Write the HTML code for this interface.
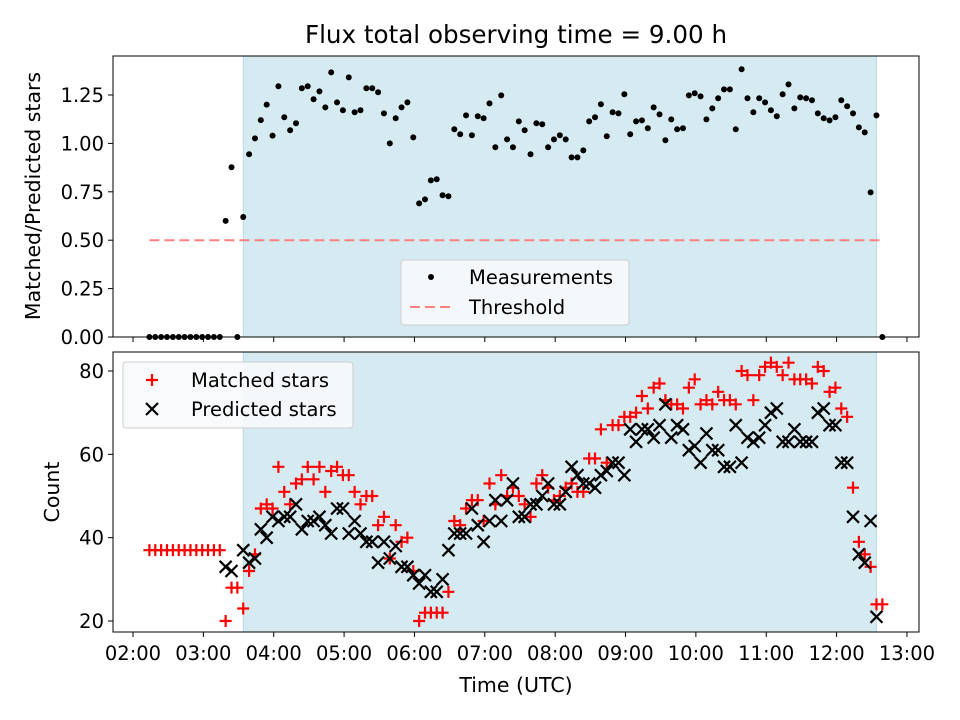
<!DOCTYPE html>
<html><head><meta charset="utf-8"><style>
html,body{margin:0;padding:0;background:#fff}
svg{display:block;font-family:"DejaVu Sans","Liberation Sans",sans-serif}
</style></head><body>
<svg id="fig" width="960" height="720" viewBox="0 0 960 720">
<text x="516" y="43" font-size="24.6" text-anchor="middle">Flux total observing time = 9.00 h</text>
<g id="topPanel"></g>
<g id="botPanel"></g>
<text x="516" y="692" font-size="20.5" text-anchor="middle">Time (UTC)</text>
<text transform="translate(40,196) rotate(-90)" font-size="20.5" text-anchor="middle">Matched/Predicted stars</text>
<text transform="translate(59,492) rotate(-90)" font-size="20.5" text-anchor="middle">Count</text>
</svg>
<script>
const startMin = 134, stepMin = 5;
const ratio = [0,0,0,0,0,0,0,0,0,0,0,0,0,
0.60,0.877,0,0.62,0.944,1.026,1.12,1.20,1.04,1.295,1.135,1.068,1.104,1.285,1.295,1.228,1.269,1.186,1.367,1.212,1.171,1.341,1.161,1.171,1.285,1.285,1.264,1.155,1.0,1.13,
1.186,1.212,1.031,0.69,0.711,0.809,0.815,0.732,0.727,1.073,1.047,1.145,1.042,1.14,1.13,1.207,0.98,1.248,1.021,0.98,1.114,1.068,0.944,1.104,1.099,0.98,1.021,1.042,1.021,0.928,0.928,0.964,1.114,1.135,1.202,1.037,1.161,1.155,1.254,1.047,1.114,1.119,1.078,
1.186,1.15,1.016,1.124,1.073,1.078,1.248,1.259,1.243,1.124,1.181,1.233,1.279,1.279,1.073,1.383,1.233,1.161,1.233,1.212,1.171,1.14,1.254,1.305,1.181,1.238,1.233,1.223,1.155,1.13,1.119,1.135,1.223,1.192,1.155,1.083,1.057,0.747,1.145,0];
const matched = [37,37,37,37,37,37,37,37,37,37,37,37,37,
20,28,28,23,32,36,47,48,47,57,51,48,53,54,57,54,57,51,56,
57,55,55,51,48,50,50,43,45,35,43,
39,40,32,20,22,22,22,22,27,44,43,47,49,49,44,53,48,55,50,52,50,
48,45,53,55,52,49,50,52,53,51,51,59,59,66,58,67,67,69,69,70,74,71,
76,77,73,72,72,71,76,78,72,73,72,75,73,73,72,80,79,73,79,81,82,81,79,82,78,78,78,77,81,80,75,76,71,69,52,39,36,33,24,24];
const predicted = [null,null,null,null,null,null,null,null,null,null,null,null,null,
33,32,null,37,34,35,42,40,45,44,45,45,48,42,44,44,45,43,41,
47,47,41,44,41,39,39,34,39,35,38,
33,33,31,29,31,27,27,30,37,41,41,41,47,43,39,44,49,44,49,53,45,
45,48,48,50,53,48,48,51,57,55,53,53,52,55,56,58,58,55,66,63,66,66,
64,67,72,64,67,66,61,62,58,65,61,61,57,57,67,58,64,63,64,67,70,71,63,63,66,63,63,63,70,71,67,67,58,58,45,36,34,44,21,null];
const xTicks = ["02:00","03:00","04:00","05:00","06:00","07:00","08:00","09:00","10:00","11:00","12:00","13:00"];
const topTicks = [0,0.25,0.5,0.75,1.0,1.25];
const botTicks = [20,40,60,80];
const threshold = 0.5;
const spanStart = 3.567, spanEnd = 12.567;

const NS="http://www.w3.org/2000/svg";
const L=113,R=919,T1=56,B1=337,T2=352,B2=632;
const xS=t=>133+(t-2)*70.36;
const yTop=v=>337-v*193.6;
const yBot=v=>621-(v-20)*4.1667;
const tOf=i=>(startMin+stepMin*i)/60;
function mk(p,tag,a){const e=document.createElementNS(NS,tag);for(const k in a)e.setAttribute(k,a[k]);p.appendChild(e);return e;}
const topG=document.getElementById('topPanel'), botG=document.getElementById('botPanel');
const fig=document.getElementById('fig');

function panel(g,T,B,ticks,yf,fmt,labels){
  const sp=mk(g,'rect',{x:xS(spanStart),y:T,width:xS(spanEnd)-xS(spanStart),height:B-T,fill:'#d5ebf1',stroke:'#bcdbe4','stroke-width':1});
  
  
  ticks.forEach(v=>{
    const y=yf(v);
    mk(g,'line',{x1:L-5,x2:L,y1:y,y2:y,stroke:'#000','stroke-width':1});
    const t=mk(g,'text',{x:L-9,y:y+7,'font-size':19.5,'text-anchor':'end'});t.textContent=fmt(v);
    
    
  });
  xTicks.forEach((s,i)=>{
    const x=xS(2+i);
    mk(g,'line',{x1:x,x2:x,y1:B,y2:B+5,stroke:'#000','stroke-width':1});
    if(labels){const t=mk(g,'text',{x:x,y:B+28,'font-size':19.5,'text-anchor':'middle'});t.textContent=s;
      
      }
  });
}
panel(topG,T1,B1,topTicks,yTop,v=>v.toFixed(2),false);
panel(botG,T2,B2,botTicks,yBot,v=>String(v),true);

const th=mk(topG,'line',{x1:xS(tOf(0)),x2:xS(tOf(ratio.length-1)),y1:yTop(threshold),y2:yTop(threshold),stroke:'#ff8080','stroke-width':2,'stroke-dasharray':'10 5'});


ratio.forEach((v,i)=>{ if(v===null)return;
  const c=mk(topG,'circle',{cx:xS(tOf(i)),cy:yTop(v),r:3,fill:'#000'});
  
  
});
function plus(g,x,y,c){return mk(g,'path',{d:`M${x-6} ${y}H${x+6}M${x} ${y-6}V${y+6}`,stroke:c,'stroke-width':2.2,fill:'none'});}
function cross(g,x,y,c){return mk(g,'path',{d:`M${x-6} ${y-6}L${x+6} ${y+6}M${x-6} ${y+6}L${x+6} ${y-6}`,stroke:c,'stroke-width':2.2,fill:'none'});}
matched.forEach((v,i)=>{ if(v===null)return;
  const p=plus(botG,xS(tOf(i)),yBot(v),'#ff0000');
  
  
});
predicted.forEach((v,i)=>{ if(v===null)return;
  const p=cross(botG,xS(tOf(i)),yBot(v),'#000');
  
  
});
[[T1,B1],[T2,B2]].forEach(([T,B])=>{const f=mk(fig,'rect',{x:L,y:T,width:R-L,height:B-T,fill:'none',stroke:'#000','stroke-width':1});
  
  });
const lg1=mk(fig,'g',{});


mk(lg1,'rect',{x:401,y:260,width:228,height:65,rx:3,fill:'#f7fafc','fill-opacity':0.9,stroke:'#ccc'});
mk(lg1,'circle',{cx:431,cy:277,r:3,fill:'#000'});
let t=mk(lg1,'text',{x:469,y:284,'font-size':19.5});t.textContent='Measurements';
mk(lg1,'line',{x1:410,x2:452,y1:307,y2:307,stroke:'#ff8080','stroke-width':2,'stroke-dasharray':'10 5'});
t=mk(lg1,'text',{x:469,y:314,'font-size':19.5});t.textContent='Threshold';
const lg2=mk(fig,'g',{});


mk(lg2,'rect',{x:123,y:362,width:230,height:66,rx:3,fill:'#f7fafc','fill-opacity':0.9,stroke:'#ccc'});
plus(lg2,152,380,'#ff0000');
t=mk(lg2,'text',{x:191,y:387,'font-size':19.5});t.textContent='Matched stars';
cross(lg2,152,409,'#000');
t=mk(lg2,'text',{x:191,y:416,'font-size':19.5});t.textContent='Predicted stars';
</script>
</body></html>
